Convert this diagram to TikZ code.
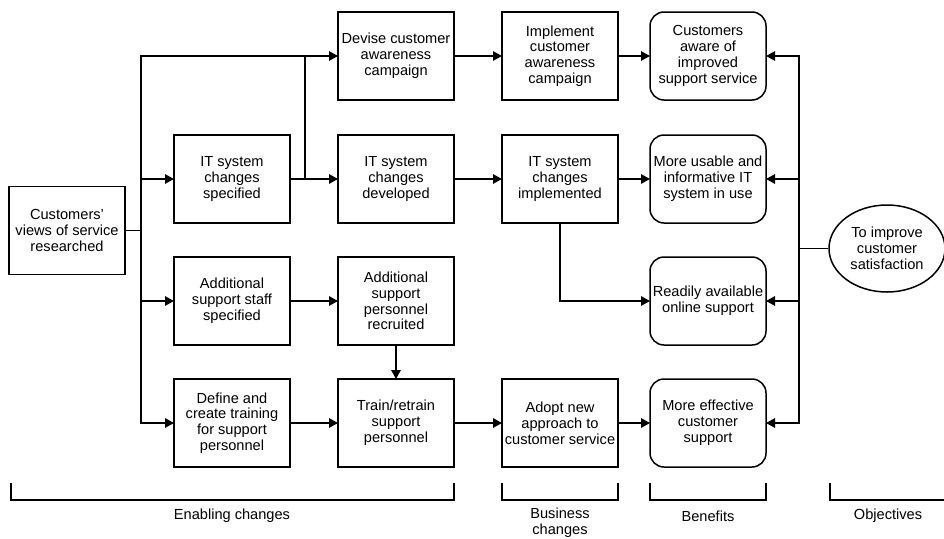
\documentclass[tikz,border=0pt]{standalone}
\usepackage{fontspec}
\setmainfont{Liberation Sans}
\usetikzlibrary{arrows.meta,positioning,shapes.geometric,calc}

\begin{document}
\begin{tikzpicture}[
    x=1pt, y=1pt,
    node distance=34pt and 48pt,
    box/.style={draw, minimum width=116pt, minimum height=88pt, inner sep=1pt, outer sep=0pt,
                font=\fontsize{14.6}{15.8}\selectfont, align=center, line width=1.5pt},
    benefit/.style={box, rounded corners=14pt},
    goal/.style={draw, ellipse, minimum width=116pt, minimum height=87pt, inner sep=0pt,
                 font=\fontsize{14.6}{15.8}\selectfont, align=center, line width=1.5pt},
    arr/.style={-{Triangle[length=9pt, width=9.5pt]}, line width=1.5pt},
    link/.style={line width=1.5pt},
    brace/.style={line width=1.3pt},
    lbl/.style={font=\fontsize{14.6}{15.8}\selectfont, align=center}
]
\useasboundingbox (0,0) rectangle (944,-538);

% enabling changes
\node[box] (views) at (67,-230.5) {Customers'\\views of service\\researched};
\node[box] (itspec) at (232,-179) {IT system\\changes\\specified};
\node[box, below=of itspec] (staffspec) {Additional\\support staff\\specified};
\node[box, below=of staffspec] (trainspec) {Define and\\create training\\for support\\personnel};
\node[box] (devise) at (396,-56) {Devise customer\\awareness\\campaign};
\node[box, right=of itspec] (itdev) {IT system\\changes\\developed};
\node[box, right=of staffspec] (recruit) {Additional\\support\\personnel\\recruited};
\node[box, right=of trainspec] (train) {Train/retrain\\support\\personnel};

% business changes
\node[box, right=of devise] (campaign) {Implement\\customer\\awareness\\campaign};
\node[box, right=of itdev] (itimpl) {IT system\\changes\\implemented};
\node[box, right=of train] (adopt) {Adopt new\\approach to\\customer service};

% benefits
\node[benefit, right=32pt of campaign] (aware) {Customers\\aware of\\improved\\support service};
\node[benefit, right=32pt of itimpl] (usable) {More usable and\\informative IT\\system in use};
\node[benefit, below=of usable] (online) {Readily available\\online support};
\node[benefit, right=32pt of adopt] (effective) {More effective\\customer\\support};

% objective
\node[goal] (goal) at (887,-248.5) {To improve\\customer\\satisfaction};

\coordinate (lbus) at (141,-230.5);
\coordinate (rbus) at (799,-248.5);

\draw[link] (views) -- (lbus);
\draw[arr] (lbus) |- (devise);
\draw[arr] (lbus) |- (itspec);
\draw[arr] (lbus) |- (staffspec);
\draw[arr] (lbus) |- (trainspec);

\draw[arr] (itspec) -- (itdev);
\draw[link] ($(itspec.east)+(15,0)$) |- (devise);
\draw[arr] (staffspec) -- (recruit);
\draw[arr] (recruit) -- (train);
\draw[arr] (trainspec) -- (train);

\draw[arr] (devise) -- (campaign);
\draw[arr] (itdev) -- (itimpl);
\draw[arr] (train) -- (adopt);

\draw[arr] (campaign) -- (aware);
\draw[arr] (itimpl) -- (usable);
\draw[arr] (itimpl) |- (online);
\draw[arr] (adopt) -- (effective);

\draw[link] (goal) -- (rbus);
\draw[arr] (rbus) |- (aware);
\draw[arr] (rbus) |- (usable);
\draw[arr] (rbus) |- (online);
\draw[arr] (rbus) |- (effective);

% column brackets
\draw[brace] (11,-483) -- (11,-500) -- (train.east |- 0,-500) -- (train.east |- 0,-483);
\draw[brace] (adopt.west |- 0,-483) -- (adopt.west |- 0,-500) -- (adopt.east |- 0,-500) -- (adopt.east |- 0,-483);
\draw[brace] (effective.west |- 0,-483) -- (effective.west |- 0,-500) -- (effective.east |- 0,-500) -- (effective.east |- 0,-483);
\draw[brace] (830,-483) -- (830,-500) -- (948,-500);

\node[lbl] (enabling) at (232,-516) {Enabling changes};
\node[lbl] (business) at (adopt |- 0,-523) {Business\\changes};
\node[lbl] (benefits) at (effective |- 0,-516) {Benefits};
\node[lbl] (objectives) at (888,-516) {Objectives};
\end{tikzpicture}
\end{document}
